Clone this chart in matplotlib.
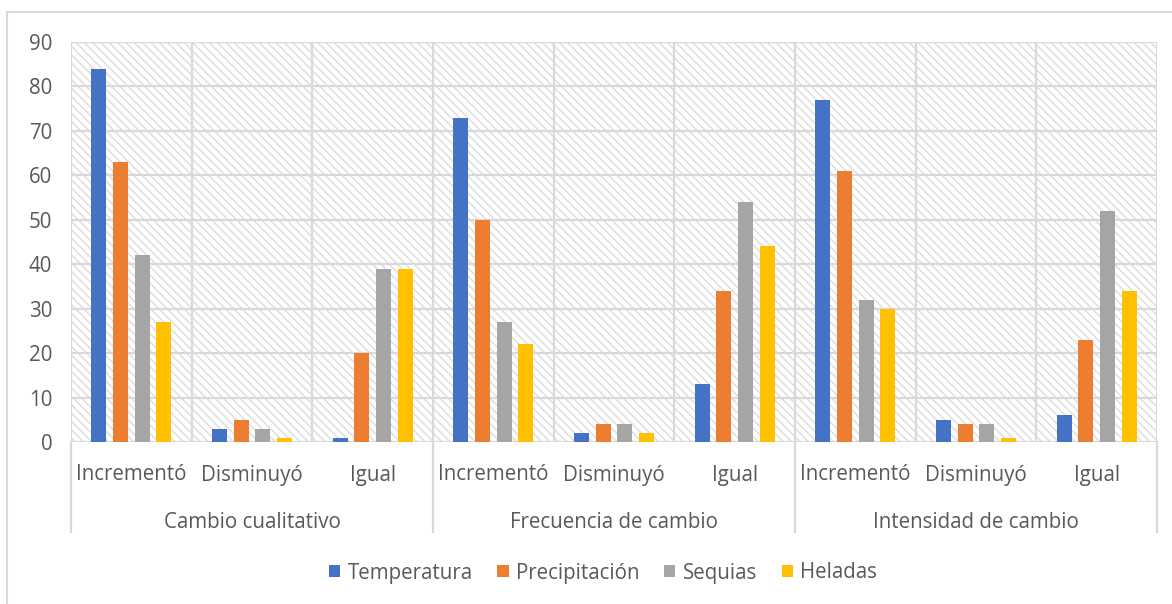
import matplotlib
matplotlib.use("Agg")
import matplotlib.pyplot as plt
from matplotlib.lines import Line2D
from matplotlib.patches import Patch
import numpy as np

plt.rcParams["font.family"] = ["Open Sans", "DejaVu Sans"]
plt.rcParams["hatch.color"] = "#dcdcdc"
plt.rcParams["hatch.linewidth"] = 1.0

groups = ["Cambio cualitativo", "Frecuencia de cambio", "Intensidad de cambio"]
answers = ["Incrementó", "Disminuyó", "Igual"]
series = ["Temperatura", "Precipitación", "Sequias", "Heladas"]
colors = ["#4472c4", "#ed7d31", "#a5a5a5", "#ffc000"]

temperatura = [84, 3, 1, 73, 2, 13, 77, 5, 6]
precipitacion = [63, 5, 20, 50, 4, 34, 61, 4, 23]
sequias = [42, 3, 39, 27, 4, 54, 32, 4, 52]
heladas = [27, 1, 39, 22, 2, 44, 30, 1, 34]
values = [temperatura, precipitacion, sequias, heladas]

yticks = list(range(0, 91, 10))

W, H = 1172, 604
fig = plt.figure(figsize=(W / 100, H / 100), dpi=100)
fig.patch.set_facecolor("white")

# outer chart frame
frame_c = "#d9d9d9"
fig.add_artist(Line2D([7 / W, 7 / W], [0, 1 - 12 / H], color=frame_c, lw=1.5))
fig.add_artist(Line2D([7 / W, 1], [1 - 12 / H, 1 - 12 / H], color=frame_c, lw=1.5))

left, right, top, bottom = 71, 1157, 42, 442
ax = fig.add_axes([left / W, 1 - bottom / H, (right - left) / W, (bottom - top) / H])
ax.patch.set_facecolor("white")
ax.patch.set_hatch("\\\\\\\\")
ax.patch.set_edgecolor("#dcdcdc")
ax.patch.set_linewidth(0)

n = len(groups) * len(answers)
x = np.arange(n)
step, width = 0.18, 0.125
for i, (name, vals, c) in enumerate(zip(series, values, colors)):
    ax.bar(x + (i - 1.5) * step, vals, width=width, color=c, label=name, zorder=3)

ax.set_xlim(-0.5, n - 0.5)
ax.set_ylim(0, 90)
grid_c = "#d9d9d9"
for y in yticks:
    ax.axhline(y, color=grid_c, lw=1.6, zorder=1)
for b in np.arange(-0.5, n, 1.0):
    ax.axvline(b, color=grid_c, lw=1.6, zorder=1)

for s in ax.spines.values():
    s.set_visible(False)
fs = 14.8
tc = "#595959"
ax.set_yticks(yticks)
ax.set_yticklabels([str(v) for v in yticks], fontsize=fs, color=tc)
ax.tick_params(axis="y", length=0, pad=13.5)
ax.set_xticks([])

trans = ax.get_xaxis_transform()
ph = bottom - top
for k in range(n):
    ax.text(k, -33 / ph, answers[k % 3], transform=trans, ha="center", va="center",
            fontsize=fs, color=tc, clip_on=False)
for g, name in enumerate(groups):
    ax.text(3 * g + 1, -81 / ph, name, transform=trans, ha="center", va="center",
            fontsize=fs, color=tc, clip_on=False)
for b in [-0.5, 2.5, 5.5, 8.5]:
    ax.add_line(Line2D([b, b], [0, -90 / ph], transform=trans, color=grid_c,
                       lw=1.6, clip_on=False))

handles = [Patch(facecolor=c, label=s) for s, c in zip(series, colors)]
leg = fig.legend(handles=handles, loc="center", bbox_to_anchor=(603 / W, 1 - 573 / H),
                 ncol=4, frameon=False, fontsize=fs, handlelength=0.55, handleheight=0.55,
                 handletextpad=0.35, columnspacing=1.2)
for t in leg.get_texts():
    t.set_color(tc)

fig.savefig("out.png", dpi=100, facecolor="white")
